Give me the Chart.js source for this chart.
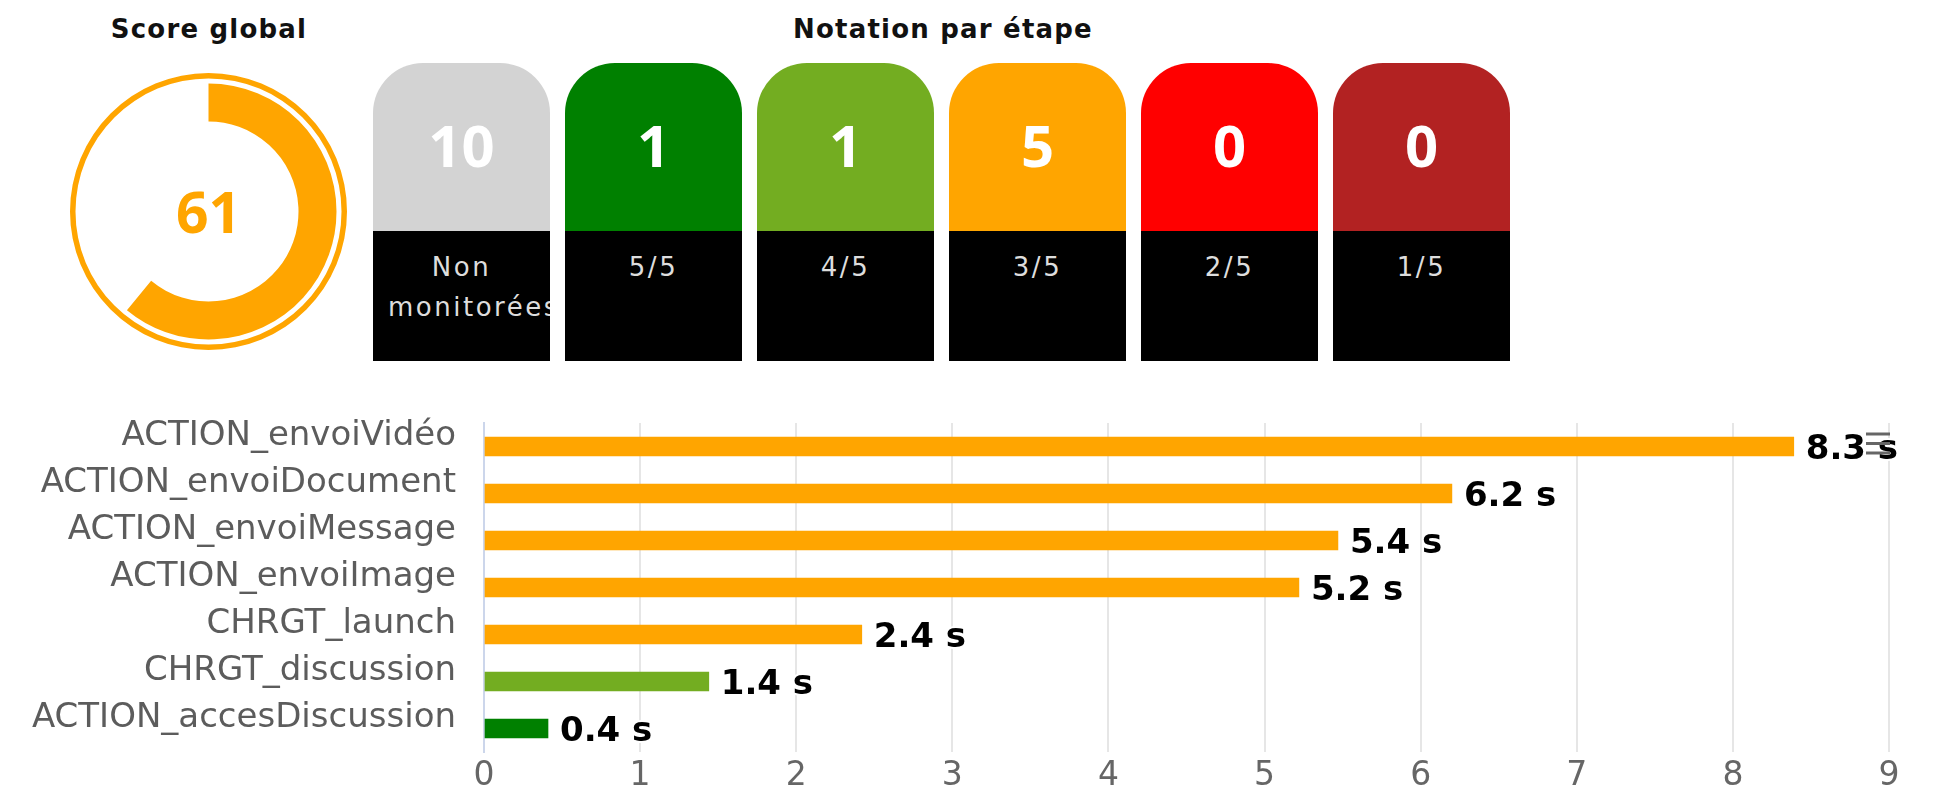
<!DOCTYPE html>
<html>
<head>
<meta charset="utf-8">
<script src="https://cdn.jsdelivr.net/npm/chart.js@4.4.1/dist/chart.umd.min.js"></script>
<style>
    html, body { margin: 0; padding: 0; background: #fff; }
    body { width: 1937px; height: 796px; position: relative; overflow: hidden; font-family: 'DejaVu Sans', sans-serif; }
    .title { position: absolute; top: 14px; font-weight: bold; font-size: 26px; letter-spacing: 1.2px; color: #111; text-align: center; white-space: nowrap; }
    #gauge { position: absolute; left: 70px; top: 73px; }
    #tiles { position: absolute; left: 373px; top: 63px; display: flex; gap: 15px; }
    .tile { width: 177px; height: 298px; display: flex; flex-direction: column; overflow: hidden; }
    .tile .count { height: 162px; padding-bottom: 6px; border-radius: 50px 50px 0 0; display: flex; align-items: center; justify-content: center; color: #fff; font: bold 58px 'Noto Sans', sans-serif; }
    .tile .grade { flex: 1; background: #000; color: #ddd; font-size: 26px; letter-spacing: 2.5px; line-height: 40px; padding: 16px 15px 0; text-align: center; overflow: hidden; }
    #bars { position: absolute; left: 0; top: 400px; }
</style>
</head>
<body>
<div class="title" style="left:59px;width:300px;">Score global</div>
<div class="title" style="left:743px;width:400px;">Notation par étape</div>
<canvas id="gauge" width="277" height="277"></canvas>
<div id="tiles"></div>
<canvas id="bars" width="1937" height="396"></canvas>
<script>
// Global score
const scoreValue = 61;
const scoreMax = 100;

// Rating per step
const gradeCounts = [10, 1, 1, 5, 0, 0];
const gradeLabels = ['Non monitorées', '5/5', '4/5', '3/5', '2/5', '1/5'];
const gradeColors = ['#d3d3d3', '#008000', '#73ad21', '#ffa500', '#ff0000', '#b22222'];

// Response time per step (seconds)
const stepLabels = ['ACTION_envoiVidéo', 'ACTION_envoiDocument', 'ACTION_envoiMessage', 'ACTION_envoiImage', 'CHRGT_launch', 'CHRGT_discussion', 'ACTION_accesDiscussion'];
const stepTimes = [8.39, 6.2, 5.47, 5.22, 2.42, 1.44, 0.41];
const stepColors = ['#ffa500', '#ffa500', '#ffa500', '#ffa500', '#ffa500', '#73ad21', '#008000'];
const timeAxisMax = 9;

Chart.defaults.font.family = "'DejaVu Sans', sans-serif";
Chart.defaults.animation = false;

// Tiles
const tilesEl = document.getElementById('tiles');
gradeCounts.forEach((count, i) => {
    const tile = document.createElement('div');
    tile.className = 'tile';
    tile.innerHTML = `
        <div class="count" style="background:${gradeColors[i]}">${count}</div>
        <div class="grade">${gradeLabels[i]}</div>
    `;
    tilesEl.appendChild(tile);
});

// Gauge: thin outer ring, transparent gap, thick score arc
const gaugeText = {
    id: 'gaugeText',
    afterDraw(chart) {
        const ctx = chart.ctx;
        const cx = (chart.chartArea.left + chart.chartArea.right) / 2;
        ctx.save();
        ctx.font = "bold 57px 'Noto Sans', sans-serif";
        ctx.fillStyle = '#ffa500';
        ctx.textAlign = 'center';
        ctx.textBaseline = 'alphabetic';
        ctx.fillText(String(scoreValue), cx, 160);
        ctx.restore();
    }
};

new Chart(document.getElementById('gauge'), {
    type: 'doughnut',
    data: {
        datasets: [
            { data: [scoreMax], backgroundColor: ['#ffa500'], weight: 5.5, borderWidth: 0 },
            { data: [scoreMax], backgroundColor: ['rgba(0,0,0,0)'], weight: 5, borderWidth: 0 },
            { data: [scoreValue, scoreMax - scoreValue], backgroundColor: ['#ffa500', 'rgba(0,0,0,0)'], weight: 38, borderWidth: 0 }
        ]
    },
    options: {
        responsive: false,
        cutout: 90,
        events: [],
        plugins: { legend: { display: false }, tooltip: { enabled: false } }
    },
    plugins: [gaugeText]
});

// Bar value labels ("8.3 s") with white outline, plus the menu icon
const valueLabels = {
    id: 'valueLabels',
    afterDatasetsDraw(chart) {
        const ctx = chart.ctx;
        const meta = chart.getDatasetMeta(0);
        ctx.save();
        ctx.font = "bold 34px 'DejaVu Sans', sans-serif";
        ctx.textAlign = 'left';
        ctx.textBaseline = 'middle';
        ctx.lineJoin = 'round';
        meta.data.forEach((bar, i) => {
            // labels show the time cut to one decimal
            const text = (Math.floor(stepTimes[i] * 10) / 10).toFixed(1) + ' s';
            ctx.strokeStyle = '#fff';
            ctx.lineWidth = 4;
            ctx.strokeText(text, bar.x + 12, bar.y + 4);
            ctx.fillStyle = '#000';
            ctx.fillText(text, bar.x + 12, bar.y + 4);
        });
        ctx.restore();
    },
    afterDraw(chart) {
        const ctx = chart.ctx;
        ctx.save();
        ctx.strokeStyle = '#666';
        ctx.lineWidth = 3;
        [34, 43.5, 53].forEach(y => {
            ctx.beginPath();
            ctx.moveTo(1866, y);
            ctx.lineTo(1890, y);
            ctx.stroke();
        });
        ctx.restore();
    }
};

new Chart(document.getElementById('bars'), {
    type: 'bar',
    data: {
        labels: stepLabels,
        datasets: [{
            data: stepTimes,
            backgroundColor: stepColors,
            barThickness: 19,
            borderWidth: 0
        }]
    },
    options: {
        responsive: false,
        indexAxis: 'y',
        events: [],
        layout: { padding: { top: 23, right: 48, left: 0, bottom: 0 } },
        scales: {
            x: {
                min: 0,
                max: timeAxisMax,
                grid: { color: '#e6e6e6', lineWidth: 2, drawTicks: false },
                border: { display: false },
                ticks: { stepSize: 1, color: '#666', font: { size: 33 }, padding: 5 },
                afterFit: s => { s.height = 44; s.paddingLeft = 0; s.paddingRight = 0; }
            },
            y: {
                grid: { display: false, drawTicks: false },
                border: { display: true, color: '#ccd6eb', width: 2 },
                ticks: { color: '#5c5c5c', font: { size: 34 }, padding: 28, labelOffset: -10, autoSkip: false },
                afterFit: s => { s.width = 484; s.paddingTop = 0; s.paddingBottom = 0; }
            }
        },
        plugins: { legend: { display: false }, tooltip: { enabled: false } }
    },
    plugins: [valueLabels]
});
</script>
</body>
</html>
